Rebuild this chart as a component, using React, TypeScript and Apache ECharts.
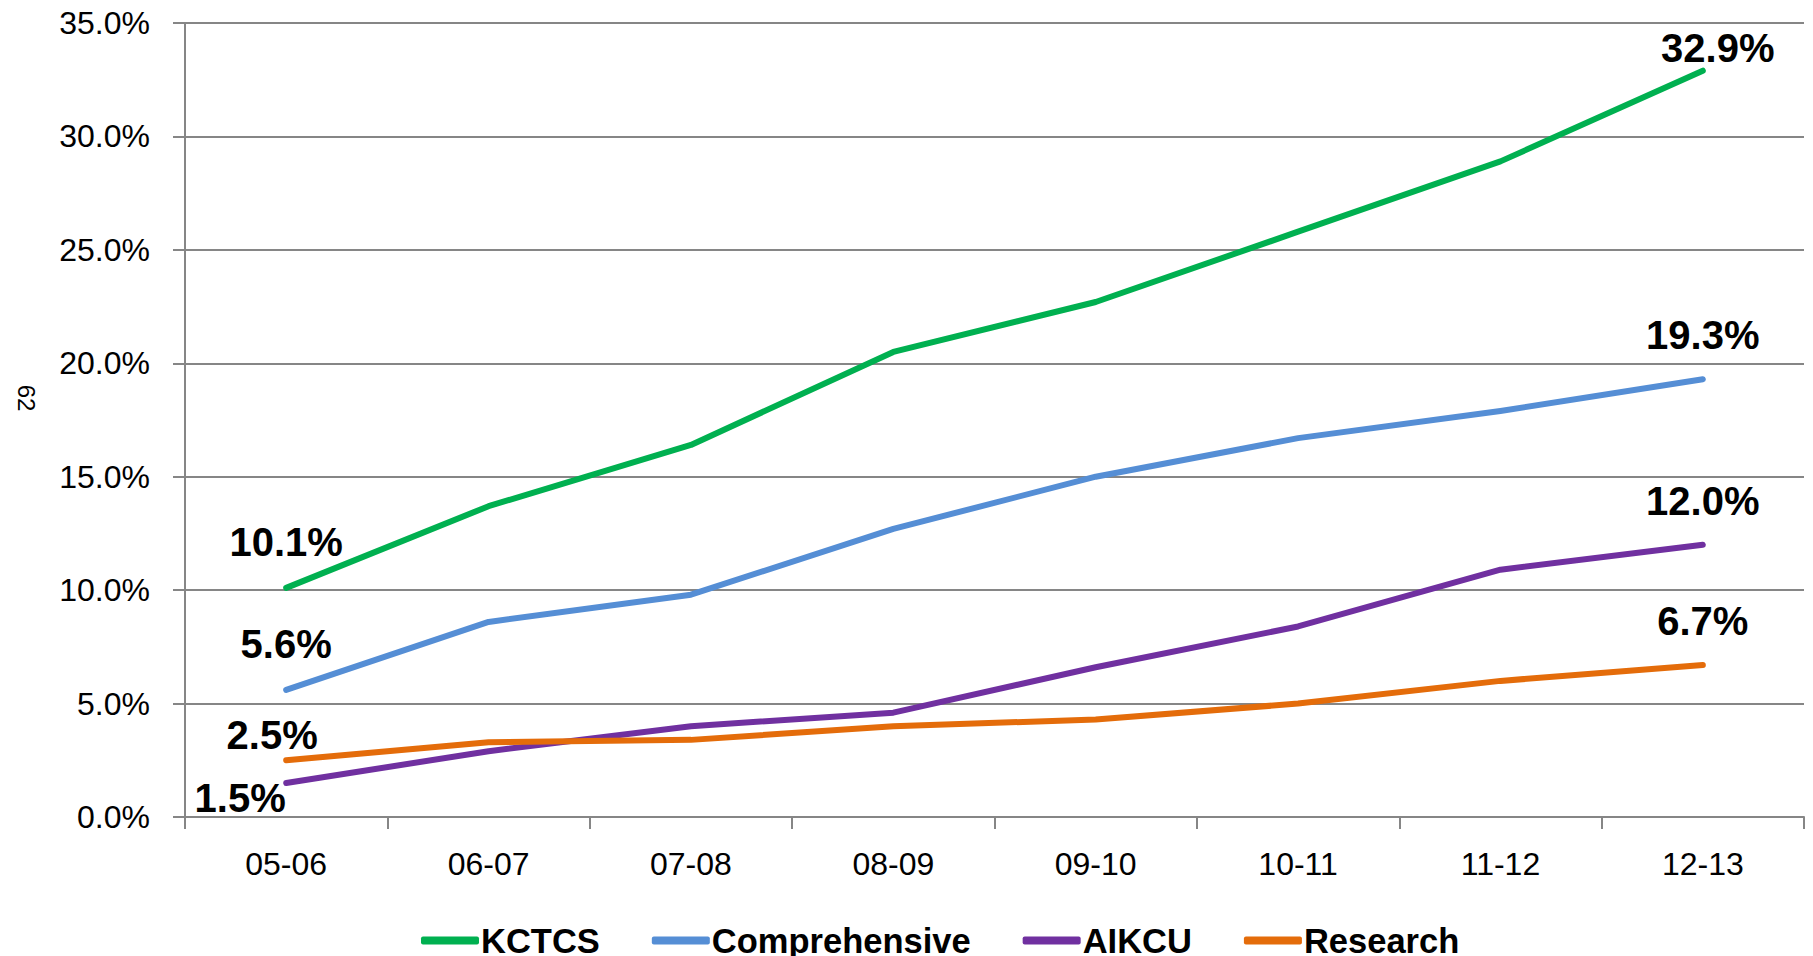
import React, { useEffect, useRef } from "react";
import * as echarts from "echarts";

const categories = ["05-06", "06-07", "07-08", "08-09", "09-10", "10-11", "11-12", "12-13"];
const kctcs = [10.1, 13.7, 16.4, 20.5, 22.7, 25.8, 28.9, 32.9];
const comprehensive = [5.6, 8.6, 9.8, 12.7, 15.0, 16.7, 17.9, 19.3];
const aikcu = [1.5, 2.9, 4.0, 4.6, 6.6, 8.4, 10.9, 12.0];
const research = [2.5, 3.3, 3.4, 4.0, 4.3, 5.0, 6.0, 6.7];
const yTicks = [0, 5, 10, 15, 20, 25, 30, 35];
const sideText = "62";

const FONT = "'Liberation Sans', Arial, sans-serif";

function mkData(values: number[], firstOffset: number[], lastOffset: number[]) {
  return values.map((v, i) => {
    if (i === 0 || i === values.length - 1) {
      return {
        value: v,
        label: {
          show: true,
          position: "inside",
          offset: i === 0 ? firstOffset : lastOffset,
          formatter: (p: any) => p.value.toFixed(1) + "%",
          fontFamily: FONT,
          fontWeight: "bold",
          fontSize: 40,
          color: "#000",
        },
      };
    }
    return { value: v };
  });
}

export default function App() {
  const ref = useRef<HTMLDivElement>(null);
  useEffect(() => {
    if (!ref.current) return;
    const chart = echarts.init(ref.current, undefined, { renderer: "svg" });
    const series = [
      { name: "KCTCS", data: mkData(kctcs, [0, -46], [15, -23]), color: "#00B050" },
      { name: "Comprehensive", data: mkData(comprehensive, [0, -46], [0, -44]), color: "#558ED5" },
      { name: "AIKCU", data: mkData(aikcu, [-46, 15], [0, -44]), color: "#7030A0" },
      { name: "Research", data: mkData(research, [-14, -25], [0, -44]), color: "#E46C0A" },
    ].map((s) => ({
      type: "line",
      name: s.name,
      data: s.data,
      symbol: "circle",
      symbolSize: 2,
      showSymbol: true,
      itemStyle: { color: s.color },
      lineStyle: { color: s.color, width: 6, cap: "round", join: "round" },
      label: { show: false },
      emphasis: { disabled: true },
    }));
    chart.setOption({
      animation: false,
      backgroundColor: "#fff",
      grid: { left: 185, right: 9, top: 23, bottom: 139, containLabel: false },
      graphic: [
        {
          type: "text",
          x: 26,
          y: 398,
          rotation: -Math.PI / 2,
          style: {
            text: sideText,
            fontFamily: FONT,
            fontSize: 24,
            fill: "#000",
            align: "center",
            verticalAlign: "middle",
          },
        },
      ],
      legend: {
        left: 416,
        top: 918,
        itemGap: 52,
        itemWidth: 58,
        itemHeight: 8,
        icon: "roundRect",
        textStyle: { fontFamily: FONT, fontWeight: "bold", fontSize: 34.5, color: "#000", padding: [0, 0, 0, -3] },
        data: series.map((s) => s.name),
      },
      xAxis: {
        type: "category",
        data: categories,
        boundaryGap: true,
        axisLine: { show: true, lineStyle: { color: "#868686", width: 2 } },
        axisTick: { show: true, length: 12, alignWithLabel: false, lineStyle: { color: "#868686", width: 2 } },
        axisLabel: { fontFamily: FONT, fontSize: 32, color: "#000", margin: 31 },
        splitLine: { show: false },
      },
      yAxis: {
        type: "value",
        min: yTicks[0],
        max: yTicks[yTicks.length - 1],
        interval: 5,
        axisLine: { show: true, lineStyle: { color: "#868686", width: 2 } },
        axisTick: { show: true, length: 12, lineStyle: { color: "#868686", width: 2 } },
        axisLabel: {
          fontFamily: FONT,
          fontSize: 32,
          color: "#000",
          margin: 35,
          formatter: (v: number) => v.toFixed(1) + "%",
        },
        splitLine: { show: true, lineStyle: { color: "#868686", width: 2 } },
      },
      series,
    });
    return () => chart.dispose();
  }, []);
  return (
    <div
      ref={ref}
      style={{ position: "fixed", left: 0, top: 0, width: 1813, height: 956, background: "#fff" }}
    />
  );
}
